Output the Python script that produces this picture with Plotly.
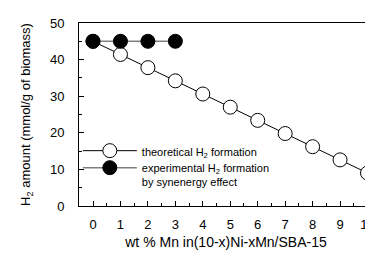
import plotly.graph_objects as go

x_theo = [0, 1, 2, 3, 4, 5, 6, 7, 8, 9, 10]
y_theo = [45, 41.4, 37.8, 34.2, 30.6, 27.0, 23.4, 19.8, 16.2, 12.6, 9.0]
x_exp = [0, 1, 2, 3]
y_exp = [45, 45, 45, 45]

FONT = "Liberation Sans, Arial, sans-serif"

fig = go.Figure()
fig.add_trace(go.Scatter(
    x=x_theo, y=y_theo, mode="lines+markers",
    name="theoretical H<sub>2</sub> formation",
    line=dict(color="black", width=1),
    marker=dict(symbol="circle", size=14, color="white", line=dict(color="black", width=1)),
    legend="legend",
))
fig.add_trace(go.Scatter(
    x=x_exp, y=y_exp, mode="lines+markers",
    name="experimental H<sub>2</sub> formation<br>by synenergy effect",
    line=dict(color="#808080", width=1.5),
    marker=dict(symbol="circle", size=14, color="black", line=dict(color="black", width=1)),
    legend="legend2",
))

leg_common = dict(xanchor="left", yanchor="top", bgcolor="rgba(0,0,0,0)",
                  font=dict(size=11, family=FONT), itemsizing="trace", valign="top",
                  itemwidth=54)

fig.update_layout(
    width=365, height=254,
    margin=dict(l=71, r=0, t=15, b=56, autoexpand=False),
    paper_bgcolor="white", plot_bgcolor="white",
    font=dict(family=FONT, color="black", size=13),
    showlegend=True,
    legend=dict(x=-0.004, y=0.377, **leg_common),
    legend2=dict(x=-0.004, y=0.284, **leg_common),
    xaxis=dict(
        range=[-0.51, 10.2], tickmode="array", tickvals=list(range(11)),
        ticktext=[str(v) for v in range(11)],
        showline=True, linecolor="black", linewidth=1, mirror=True,
        ticks="inside", ticklen=5, tickcolor="black",
        minor=dict(ticks="inside", dtick=0.5, tick0=0, ticklen=3, tickcolor="black"),
        showgrid=False, zeroline=False, ticklabelstandoff=6, automargin=False,
        ticklabeloverflow="allow",
        title=dict(text="wt % Mn in(10-x)Ni-xMn/SBA-15", font=dict(size=14), standoff=6),
    ),
    yaxis=dict(
        range=[0, 50], tickmode="array", tickvals=[0, 10, 20, 30, 40, 50],
        showline=True, linecolor="black", linewidth=1,
        ticks="inside", ticklen=5, tickcolor="black",
        minor=dict(ticks="inside", dtick=5, tick0=0, ticklen=3, tickcolor="black"),
        showgrid=False, zeroline=False, ticklabelstandoff=11, automargin=False,
        title=dict(text="H<sub>2</sub> amount (mmol/g of biomass)", font=dict(size=13), standoff=16),
    ),
)

fig.write_html("out.html")
